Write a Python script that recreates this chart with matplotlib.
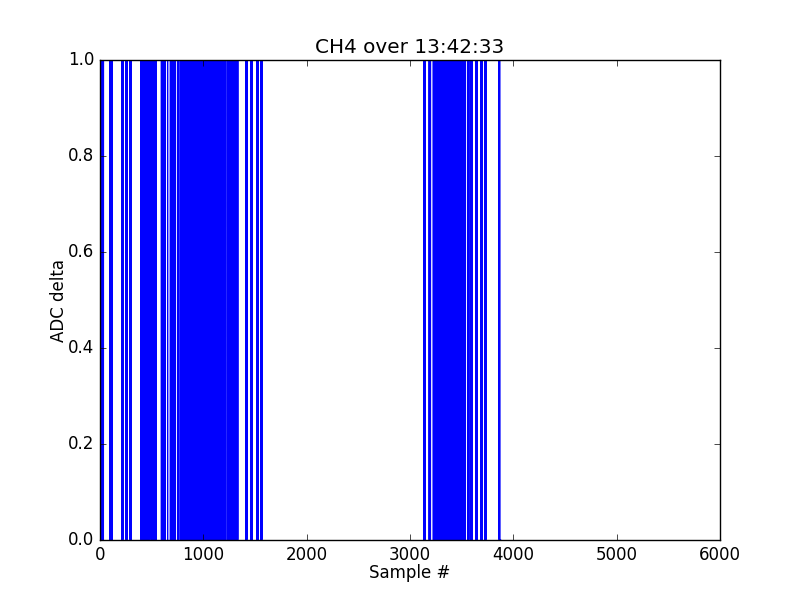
import numpy as np
import matplotlib
matplotlib.use("Agg")
import matplotlib.pyplot as plt

plt.style.use('classic')
plt.rcParams['path.simplify'] = False

title = "CH4 over 13:42:33"
x_label = "Sample #"
y_label = "ADC delta"
n_samples = 3880

# intervals (start, end sample) where the channel reads 0; elsewhere it reads 1
dips_left = [(0, 3), (12, 14), (24, 26), (32, 34),
             (96, 97), (107, 108), (116, 117),
             (212, 213), (222, 223), (251, 252), (261, 262), (290, 291), (300, 301),
             (396, 397), (405, 406),
             (417, 418), (427, 428), (437, 438), (447, 448), (457, 458), (466, 467), (474, 475),
             (493, 494), (503, 504), (513, 514), (523, 524), (533, 534), (543, 544),
             (593, 594), (603, 604), (613, 614), (623, 624), (632, 633),
             (655, 655),
             (680, 681), (690, 691), (700, 701), (710, 711), (720, 721), (730, 731),
             (753, 754), (763, 764)]
dense_left = [782, 790, 799, 808, 818, 826, 835, 845, 853, 862, 871, 881, 889, 898, 907,
              917, 925, 934, 943, 952, 961, 970, 980, 988, 997, 1006, 1016, 1024, 1033,
              1042, 1051, 1060, 1069, 1079, 1087, 1096, 1105, 1115, 1123, 1132, 1141,
              1150, 1159, 1168, 1178, 1186, 1195, 1204, 1211]
dips_mid = [(1230, 1230)]
dense_mid = [1246, 1255, 1264, 1273, 1282, 1291, 1300, 1309, 1318, 1327, 1334]
dips_tail = [(1411, 1412), (1422, 1423), (1459, 1460), (1471, 1472),
             (1518, 1519), (1529, 1530), (1556, 1557), (1567, 1568)]
dips_right = [(3134, 3135), (3145, 3146), (3184, 3185), (3198, 3199), (3225, 3225)]
dense_right = [3240, 3249, 3258, 3267, 3276, 3285, 3294, 3303, 3312, 3321, 3330, 3339,
               3348, 3357, 3366, 3375, 3384, 3393, 3402, 3411, 3420, 3429, 3438, 3447,
               3456, 3465, 3474, 3483, 3492, 3501, 3510, 3518, 3523]
dips_end = [(3537, 3537), (3559, 3560), (3570, 3571), (3589, 3590), (3600, 3601),
            (3638, 3639), (3649, 3650), (3686, 3687), (3697, 3698),
            (3724, 3725), (3735, 3736), (3861, 3862), (3872, 3879)]

intervals = (dips_left + [(d, d + 1) for d in dense_left] + dips_mid
             + [(d, d + 1) for d in dense_mid] + dips_tail + dips_right
             + [(d, d + 1) for d in dense_right] + dips_end)

values = np.ones(n_samples)
for s, e in intervals:
    values[s:e + 1] = 0

fig = plt.figure(figsize=(8, 6), dpi=100, facecolor='white')
ax = fig.add_subplot(111)
ax.plot(values, color='b', linewidth=0.75)
ax.set_xlim(0, 6000)
ax.set_ylim(0, 1)
ax.set_title(title)
ax.set_xlabel(x_label, labelpad=0)
ax.set_ylabel(y_label, labelpad=0)
fig.savefig("out.png", dpi=100, facecolor='white')
